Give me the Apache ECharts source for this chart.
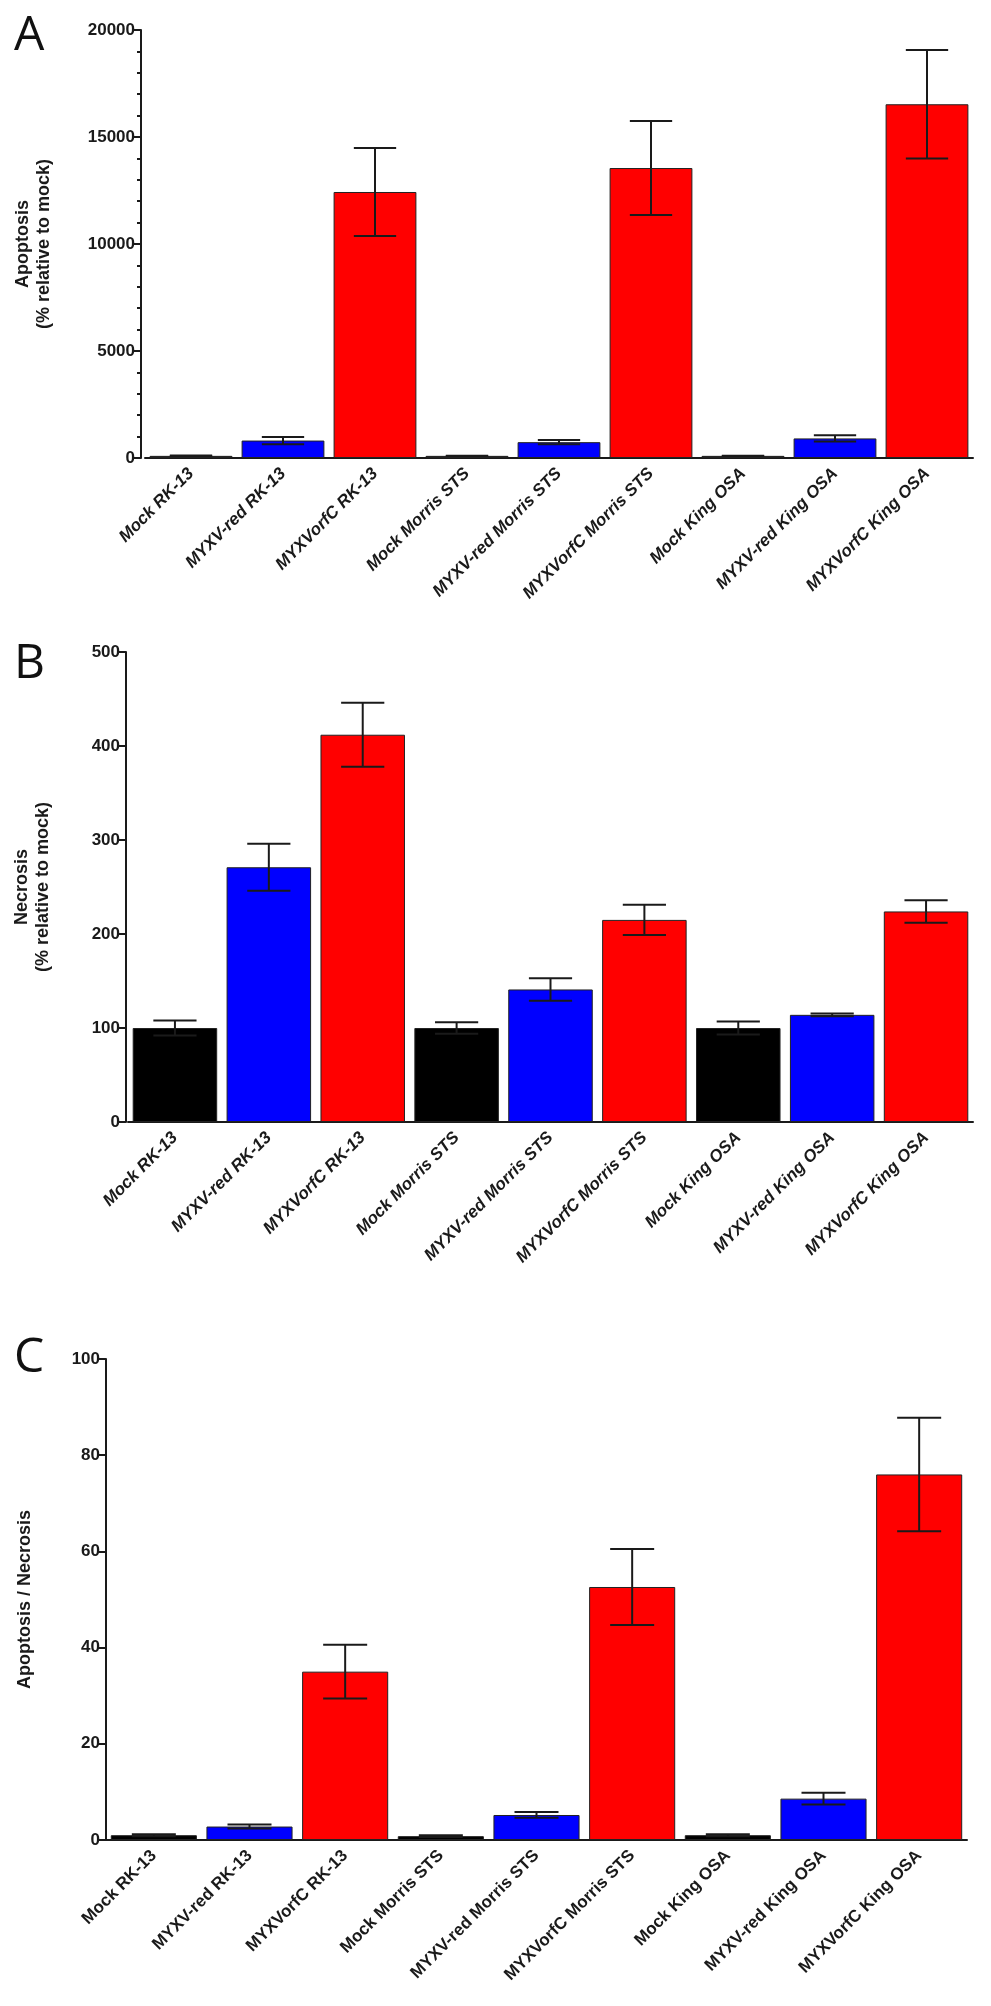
<!DOCTYPE html>
<html>
<head>
    <meta charset="utf-8">
    <script src="https://cdn.jsdelivr.net/npm/echarts@6/dist/echarts.min.js"></script>
</head>
<body style="margin: 0; background: #fff">
    <div id="main" style="width: 991px; height: 2006px"></div>
    <script type="text/javascript">
        var categories = ['Mock RK-13', 'MYXV-red RK-13', 'MYXVorfC RK-13',
            'Mock Morris STS', 'MYXV-red Morris STS', 'MYXVorfC Morris STS',
            'Mock King OSA', 'MYXV-red King OSA', 'MYXVorfC King OSA'];
        var barColors = ['#000000', '#0000ff', '#ff0000', '#000000', '#0000ff', '#ff0000', '#000000', '#0000ff', '#ff0000'];

        // panel A - apoptosis (% relative to mock)
        var apoptosis = [100, 815, 12430, 100, 740, 13550, 100, 915, 16530];
        var apoptosisErr = [12, 170, 2060, 10, 100, 2200, 10, 145, 2530];
        // panel B - necrosis (% relative to mock)
        var necrosis = [100, 271, 412, 100, 141, 215, 100, 114, 224];
        var necrosisErr = [8, 25, 34, 6, 12, 16, 7, 1.5, 12];
        // panel C - apoptosis / necrosis
        var ratio = [1.0, 2.8, 35, 0.8, 5.2, 52.6, 1.0, 8.6, 76];
        var ratioErr = [0.2, 0.4, 5.6, 0.2, 0.6, 7.9, 0.2, 1.2, 11.8];

        var ticksA = [0, 5000, 10000, 15000, 20000];
        var ticksB = [0, 100, 200, 300, 400, 500];
        var ticksC = [0, 20, 40, 60, 80, 100];

        var dom = document.getElementById('main');
        var myChart = echarts.init(dom, null, { renderer: 'canvas' });

        var font = 'Liberation Sans, Arial, sans-serif';

        function barData(vals) {
            return vals.map(function (v, i) {
                return { value: v, itemStyle: { color: barColors[i] } };
            });
        }
        function errData(vals, errs) {
            return vals.map(function (v, i) {
                return [i, v - errs[i], v + errs[i]];
            });
        }
        function renderErr(params, api) {
            var lo = api.coord([api.value(0), api.value(1)]);
            var hi = api.coord([api.value(0), api.value(2)]);
            var half = api.size([1, 0])[0] * 0.23;
            var style = { stroke: '#1a1a1a', lineWidth: 2 };
            return {
                type: 'group',
                children: [
                    { type: 'line', shape: { x1: hi[0], y1: hi[1], x2: lo[0], y2: lo[1] }, style: style },
                    { type: 'line', shape: { x1: hi[0] - half, y1: hi[1], x2: hi[0] + half, y2: hi[1] }, style: style },
                    { type: 'line', shape: { x1: lo[0] - half, y1: lo[1], x2: lo[0] + half, y2: lo[1] }, style: style }
                ]
            };
        }
        function xAxis(idx, italic) {
            return {
                type: 'category',
                gridIndex: idx,
                data: categories,
                axisLine: { lineStyle: { color: '#1a1a1a', width: 2 } },
                axisTick: { alignWithLabel: true, length: 8, lineStyle: { color: '#1a1a1a', width: 2 } },
                axisLabel: {
                    rotate: 45, interval: 0, margin: 13,
                    fontFamily: font, fontSize: 17, fontWeight: 'bold',
                    fontStyle: italic ? 'italic' : 'normal', color: '#1a1a1a'
                }
            };
        }
        function yAxis(idx, ticks, name, gap, minor, off) {
            return {
                type: 'value',
                gridIndex: idx,
                offset: off,
                min: ticks[0],
                max: ticks[ticks.length - 1],
                interval: ticks[1] - ticks[0],
                name: name,
                nameLocation: 'middle',
                nameGap: gap,
                nameRotate: 90,
                nameTextStyle: { fontFamily: font, fontSize: 18, fontWeight: 'bold', color: '#1a1a1a', lineHeight: 21 },
                splitLine: { show: false },
                axisLine: { show: true, lineStyle: { color: '#1a1a1a', width: 2 } },
                axisTick: { show: true, length: 8, lineStyle: { color: '#1a1a1a', width: 2 } },
                minorTick: { show: minor, splitNumber: 5, length: 4, lineStyle: { color: '#1a1a1a', width: 2 } },
                axisLabel: {
                    fontFamily: font, fontSize: 17, fontWeight: 'bold', color: '#1a1a1a', margin: 6,
                    formatter: function (v) { return String(v); }
                }
            };
        }

        var letterFont = '48px "Open Sans", sans-serif';
        var option = {
            animation: false,
            backgroundColor: '#ffffff',
            graphic: [
                { type: 'text', left: 14, top: 12, style: { text: 'A', font: letterFont, fill: '#111' } },
                { type: 'text', left: 14, top: 640, style: { text: 'B', font: letterFont, fill: '#111' } },
                { type: 'text', left: 14, top: 1334, style: { text: 'C', font: letterFont, fill: '#111' } }
            ],
            grid: [
                { left: 145, right: 18, top: 30, height: 428 },
                { left: 128, right: 18, top: 652, height: 470 },
                { left: 106, right: 24, top: 1359, height: 481 }
            ],
            xAxis: [xAxis(0, true), xAxis(1, true), xAxis(2, false)],
            yAxis: [
                yAxis(0, ticksA, 'Apoptosis\n(% relative to mock)', 86, true, 4),
                yAxis(1, ticksB, 'Necrosis\n(% relative to mock)', 72, false, 2),
                yAxis(2, ticksC, 'Apoptosis / Necrosis', 70, false, 0)
            ],
            series: [
                { type: 'bar', xAxisIndex: 0, yAxisIndex: 0, data: barData(apoptosis), barCategoryGap: '10%',
                  itemStyle: { borderColor: '#222', borderWidth: 1 } },
                { type: 'custom', xAxisIndex: 0, yAxisIndex: 0, data: errData(apoptosis, apoptosisErr), renderItem: renderErr, z: 5 },
                { type: 'bar', xAxisIndex: 1, yAxisIndex: 1, data: barData(necrosis), barCategoryGap: '10%',
                  itemStyle: { borderColor: '#222', borderWidth: 1 } },
                { type: 'custom', xAxisIndex: 1, yAxisIndex: 1, data: errData(necrosis, necrosisErr), renderItem: renderErr, z: 5 },
                { type: 'bar', xAxisIndex: 2, yAxisIndex: 2, data: barData(ratio), barCategoryGap: '10%',
                  itemStyle: { borderColor: '#222', borderWidth: 1 } },
                { type: 'custom', xAxisIndex: 2, yAxisIndex: 2, data: errData(ratio, ratioErr), renderItem: renderErr, z: 5 }
            ]
        };

        myChart.setOption(option);
        window.addEventListener('resize', myChart.resize);
    </script>
</body>
</html>
